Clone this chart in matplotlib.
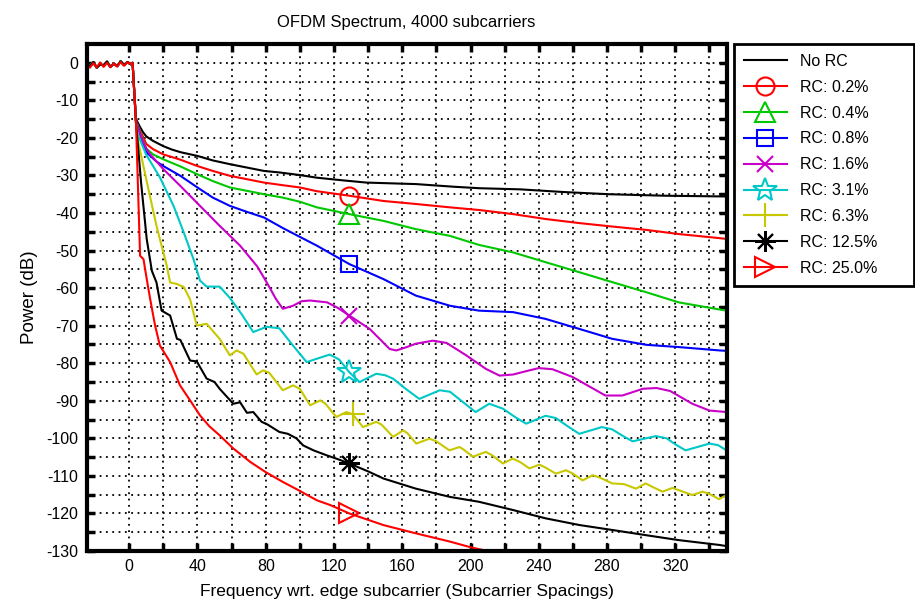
import numpy as np
import matplotlib
matplotlib.use("Agg")
import matplotlib.pyplot as plt

plt.rcParams["font.family"] = ["Liberation Sans", "DejaVu Sans"]
plt.rcParams["axes.unicode_minus"] = False

TITLE = "OFDM Spectrum, 4000 subcarriers"
XLABEL = "Frequency wrt. edge subcarrier (Subcarrier Spacings)"
YLABEL = "Power (dB)"

labels = ["No RC", "RC: 0.2%", "RC: 0.4%", "RC: 0.8%", "RC: 1.6%",
          "RC: 3.1%", "RC: 6.3%", "RC: 12.5%", "RC: 25.0%"]
colors = ["black", "red", "#00c800", "blue", "#c800c8",
          "#00c8c8", "#c8c800", "black", "red"]
markers = [None, "o", "^", "s", "x", "*", "+", (8, 2, 0), ">"]
marker_sizes = [0, 13, 15, 12, 12, 18, 17, 15, 15]
marker_x = 130

# in-band ripple (x <= 2), same x for every curve
pass_x = [-25, -23, -21, -19, -17, -15, -13, -11, -9, -7, -5, -3, -1, 1, 2]
pass_under = [-0.3, -0.9, 0.2, -1.3, -0.4, -0.7, 0.3, -1.1, -0.2, -0.9, 0.4, -0.6, 0.2, -0.4, 0.0]
pass_top = [-0.6, -1.3, -0.1, -1.2, 0.1, -1.1, 0.0, -1.2, -0.2, -1.0, 0.2, -0.8, 0.1, -0.3, 0.0]

# out-of-band part, (subcarrier, dB)
no_rc = [(4, -15), (6, -16.8), (8, -18.4), (10, -19.6), (14, -20.8), (20, -22.2), (25, -23.1),
         (30, -23.8), (40, -24.8), (49, -26), (59, -27), (69, -27.9), (79, -28.8), (88, -29.2),
         (100, -29.9), (110, -30.6), (125, -31.3), (139, -31.9), (168, -32.3), (190, -33),
         (205, -33.4), (229, -33.7), (254, -34.4), (281, -35), (314, -35.4), (350, -35.6)]
rc02 = [(4, -15.5), (6, -17.7), (8, -19.6), (10, -21.6), (14, -23), (20, -24.4), (30, -25.8),
        (40, -27.5), (49, -28.8), (59, -30.1), (69, -31), (79, -31.9), (90, -32.6), (100, -33.2),
        (110, -34.2), (129, -35.4), (149, -36.8), (168, -37.6), (188, -38.5), (205, -39.2),
        (225, -40.3), (244, -41.6), (264, -42.7), (283, -43.6), (303, -44.5), (322, -45.6),
        (346, -46.7), (350, -46.9)]
rc04 = [(4, -15.5), (6, -18), (8, -20.5), (10, -22.8), (14, -24.4), (20, -25.7), (30, -27.6),
        (40, -29.7), (49, -31.5), (59, -33.2), (69, -34.1), (79, -35), (90, -35.9), (100, -37),
        (110, -38.5), (129, -40.3), (149, -42.1), (168, -44.3), (188, -46.1), (205, -48.5),
        (225, -50.5), (244, -53.1), (264, -55.8), (283, -58.4), (303, -61.1), (322, -63.8),
        (346, -65.7), (350, -66)]
rc08 = [(4, -15.5), (6, -18.5), (8, -21.3), (10, -23.8), (16, -26.3), (20, -27.5), (30, -30.1),
        (40, -33.2), (49, -35.9), (59, -38.1), (69, -39.7), (79, -41.2), (90, -44), (110, -48.7),
        (129, -53.6), (149, -57.6), (168, -62), (188, -64.7), (205, -66), (225, -66.4),
        (244, -68.2), (264, -70.9), (283, -73.5), (303, -75.1), (322, -75.7), (346, -76.6),
        (350, -76.7)]
rc16 = [(4, -16), (6, -18.5), (8, -20.8), (10, -22.8), (12, -24.2), (20, -28.3), (30, -32.8),
        (41.5, -38.1), (53, -43.4), (65, -48.7), (71, -52), (75, -54.2), (80.5, -58.4),
        (86, -62.9), (90, -65.5), (96, -64.7), (101, -63.5), (106, -63.3), (116, -63.8),
        (122, -65.2), (129, -67.3), (141, -70.9), (152.6, -76.2), (156.5, -76.6), (162, -75.8),
        (168, -74.8), (178, -74), (186, -74.6), (197.5, -77.9), (209, -81.5), (217, -83.3),
        (225, -83), (234.5, -81.9), (240, -81.3), (248, -81.6), (260, -83.7), (279, -88.6),
        (289, -88.6), (301, -86.8), (309, -86.6), (317, -87.4), (330, -90.8), (340, -92.6),
        (350, -93)]
rc31 = [(4, -16), (5, -19), (10, -24.5), (18, -30.5), (26, -38.1), (32, -45.2), (37.7, -52.3),
        (41.5, -58), (45.4, -59.6), (53, -59.6), (59, -62.6), (66, -67), (72.7, -71.7),
        (80.5, -70.3), (88, -70.7), (96, -75.3), (104, -79.7), (110, -78.8), (117.5, -77.7),
        (123, -79), (129, -82.4), (135, -85), (144.8, -82.8), (150, -83.2), (154.6, -84.1),
        (162, -86.8), (170, -89.5), (182, -87.2), (188, -87.6), (196, -90.5), (203, -93),
        (211, -90.8), (219, -92.1), (226, -94.3), (232.6, -96.1), (244, -94), (250, -94.6),
        (257, -96.8), (263.7, -98.8), (277, -97), (283, -97.6), (289, -99.3), (295, -100.8),
        (308.6, -99.4), (315, -100), (320, -101.6), (326, -103.2), (340, -101.4), (345, -101.8),
        (350, -103.2)]
rc63 = [(4, -16), (5, -20.4), (10, -31), (16, -43.4), (22, -54), (24, -58.5), (28, -58.9),
        (32, -59.7), (35.7, -63), (39.6, -70), (45.4, -69.5), (53, -73.5), (59, -77.9),
        (63, -76.6), (67, -77.5), (74.7, -83), (78.5, -81.9), (82, -82.5), (90, -87.2),
        (96, -85.9), (100, -86.8), (106, -91.2), (112, -89.9), (115, -90.8), (121.4, -94.3),
        (127.3, -93), (131, -93.6), (137, -97), (144.8, -95.6), (148, -96.4), (154.6, -99.6),
        (160.5, -97.9), (163, -98.6), (168.2, -101.4), (176, -100.1), (180, -100.8),
        (187.7, -103.2), (193.6, -102.3), (196, -103), (201.4, -104.9), (209, -103.6),
        (213, -104.6), (219, -106.7), (224.7, -105.4), (229, -106.3), (234.5, -108),
        (240.4, -107), (244, -107.8), (250, -109.4), (256, -108.5), (260, -109.4),
        (265.7, -111.2), (271.6, -109.8), (276, -110.5), (283, -112), (290, -112.2),
        (297, -113.4), (302.7, -112), (306, -112.8), (312.5, -114.2), (318.3, -113.2),
        (322, -113.8), (330, -115.1), (336, -114.2), (340, -114.8), (345.6, -116.2),
        (350, -115.1)]
rc125 = [(4, -16), (7, -32), (10.3, -47), (13.3, -55.4), (16, -58.5), (19, -66), (24, -67.3),
         (28, -73.5), (30, -73.8), (35.7, -79.3), (39.6, -79.5), (45.4, -84.1), (50, -85),
         (53, -86.8), (61, -90.8), (65, -90.4), (69, -93.2), (72.7, -93), (77.6, -95.6),
         (81, -96.3), (88, -98.3), (93, -98.8), (98, -100), (102, -101.9), (108, -103.2),
         (115.6, -104.5), (122, -105.5), (129, -106.7), (140, -108.8), (149, -110.7),
         (168, -113.4), (188, -115.6), (205, -116.9), (225, -119.1), (244, -121.3),
         (264, -123.1), (283, -124.4), (303, -125.8), (322, -127.1), (346, -128.4), (350, -128.7)]
rc250 = [(4, -16), (6.4, -51.4), (8.4, -52.3), (10.3, -57.6), (12.3, -62.9), (15.2, -70),
         (18, -75.3), (24, -79.7), (29.8, -85.9), (35.7, -89.9), (41.5, -93.9), (47, -96.8),
         (53, -99.2), (61, -102.7), (71, -106.3), (80, -109), (90, -111.6), (100, -114),
         (110, -116.5), (118, -117.8), (129, -120), (149, -123.1), (168, -125.3),
         (188, -127.5), (200, -129), (207, -129.7), (212, -130.4)]

curves = [no_rc, rc02, rc04, rc08, rc16, rc31, rc63, rc125, rc250]

W, H = 915, 605
fig = plt.figure(figsize=(W / 100, H / 100), dpi=100)
ax = fig.add_axes([86.5 / W, (H - 551) / H, 640 / W, 507 / H])

for i, pts in enumerate(curves):
    tx, ty = zip(*pts)
    ripple = pass_top if i == len(curves) - 1 else pass_under
    x = np.array(list(pass_x) + list(tx))
    y = np.array(list(ripple) + list(ty))
    kw = dict(color=colors[i], lw=1.5, label=labels[i])
    if markers[i] is not None:
        k = int(np.argmin(np.abs(x - marker_x)))
        kw.update(marker=markers[i], markevery=[k], markersize=marker_sizes[i],
                  markerfacecolor="none", markeredgecolor=colors[i], markeredgewidth=1.5)
    ax.plot(x, y, **kw)

ax.set_xlim(-25, 350)
ax.set_ylim(-130, 5)
ax.set_xticks(np.arange(0, 341, 40))
ax.set_xticks(np.arange(20, 341, 40), minor=True)
ax.set_yticks(np.arange(-130, 1, 10))
ax.set_yticks(np.arange(-125, 0, 10), minor=True)
ax.grid(True, which="both", color="black", linestyle=(0, (1, 2.5)), linewidth=1.3)
ax.tick_params(which="both", direction="in", top=True, right=True,
               length=6, width=2.5, labelsize=11.5, pad=6)
for s in ax.spines.values():
    s.set_linewidth(3)

ax.set_title(TITLE, fontsize=12, pad=12)
ax.set_xlabel(XLABEL, fontsize=12.5, labelpad=7)
ax.set_ylabel(YLABEL, fontsize=13.5, labelpad=6)

leg = fig.legend(loc="upper left", bbox_to_anchor=(734 / W, 1 - 44 / H, 180 / W, 0),
                 mode="expand", fontsize=11.5, numpoints=1, handlelength=2.7,
                 labelspacing=0.68, borderpad=0.62, borderaxespad=0,
                 fancybox=False, framealpha=1, edgecolor="black")
leg.get_frame().set_linewidth(2)

fig.savefig("out.png", dpi=100)
